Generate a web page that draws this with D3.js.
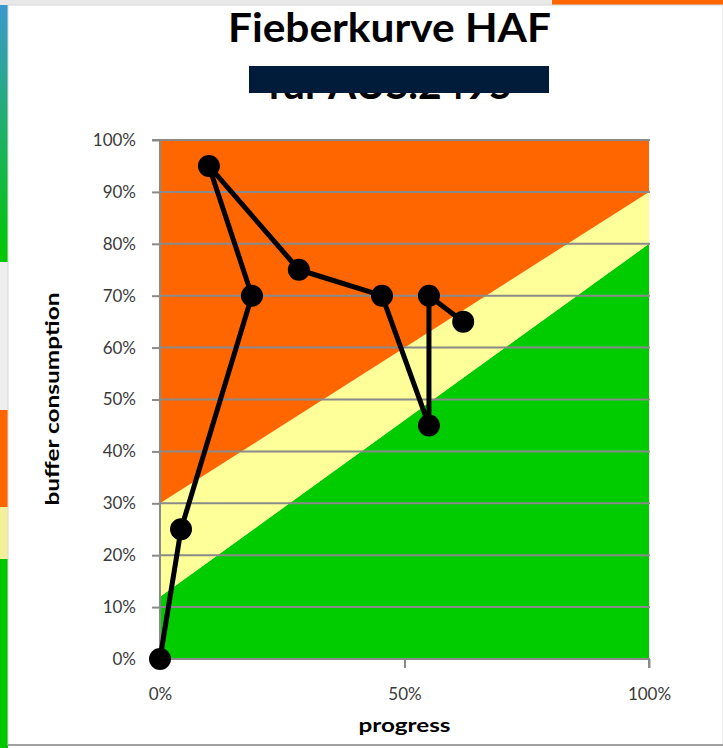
<!DOCTYPE html>
<html><head><meta charset="utf-8">
<script src="https://cdn.jsdelivr.net/npm/d3@7"></script>
<style>html,body{margin:0;padding:0;background:#fff;}svg{display:block;}</style>
</head><body>
<svg id="chart" width="723" height="748"></svg>
<script>
// ---- data ----
const progress    = [0.00, 0.043, 0.188, 0.10, 0.284, 0.454, 0.55, 0.55, 0.62];
const consumption = [0.00, 0.25,  0.70,  0.95, 0.75,  0.70,  0.45, 0.70, 0.65];
const yTicks = [0,0.1,0.2,0.3,0.4,0.5,0.6,0.7,0.8,0.9,1.0];
const xTicks = [0,0.5,1.0];
const redLine    = [0.30, 0.90];   // lower edge of red zone at progress 0 and 100%
const greenLine  = [0.12, 0.80];   // upper edge of green zone at progress 0 and 100%
const title = "Fieberkurve HAF";
const subtitle = "für AUS.2495";
const xTitle = "progress";
const yTitle = "buffer consumption";

const svg = d3.select("#chart");
const fmt = d3.format(".0%");

// ---- screenshot surroundings ----
const bg = svg.append("g");
const grad = svg.append("defs").append("linearGradient").attr("id","lg").attr("x1",0).attr("x2",0).attr("y1",0).attr("y2",1);
grad.append("stop").attr("offset","0%").attr("stop-color","#3c98d2");
grad.append("stop").attr("offset","100%").attr("stop-color","#00c800");
bg.append("rect").attr("x",0).attr("y",0).attr("width",8).attr("height",262).attr("fill","url(#lg)");
bg.append("rect").attr("x",0).attr("y",262).attr("width",8).attr("height",148).attr("fill","#eeeeee");
bg.append("rect").attr("x",0).attr("y",410).attr("width",8).attr("height",97).attr("fill","#ff6600");
bg.append("rect").attr("x",0).attr("y",507).attr("width",8).attr("height",52).attr("fill","#f4f09a");
bg.append("rect").attr("x",0).attr("y",559).attr("width",8).attr("height",189).attr("fill","#00c800");
bg.append("rect").attr("x",0).attr("y",0).attr("width",723).attr("height",5).attr("fill","#e8e8e8");
bg.append("rect").attr("x",552).attr("y",0).attr("width",171).attr("height",5).attr("fill","#ff6600");
bg.append("rect").attr("x",8).attr("y",5).attr("width",715).attr("height",740).attr("fill","#fff").attr("stroke","#d8d8d8").attr("stroke-width",1);
bg.append("line").attr("x1",8).attr("x2",723).attr("y1",745).attr("y2",745).attr("stroke","#a0a0a0").attr("stroke-width",2);

// ---- scales ----
const x = d3.scaleLinear().domain([0,1]).range([160,649]);
const y = d3.scaleLinear().domain([0,1]).range([659,140]);

// ---- zones ----
const area = d3.line().x(d=>x(d[0])).y(d=>y(d[1]));
const zones = [
  {fill:"#00cc00", pts:[[0,0],[1,0],[1,greenLine[1]],[0,greenLine[0]]]},
  {fill:"#ffff99", pts:[[0,greenLine[0]],[1,greenLine[1]],[1,redLine[1]],[0,redLine[0]]]},
  {fill:"#ff6600", pts:[[0,redLine[0]],[1,redLine[1]],[1,1],[0,1]]}
];
svg.append("g").selectAll("path").data(zones).join("path")
  .attr("d",d=>area(d.pts)+"Z").attr("fill",d=>d.fill);

// ---- gridlines ----
svg.append("g").selectAll("line").data(yTicks.slice(1)).join("line")
  .attr("x1",x(0)).attr("x2",x(1)+1).attr("y1",d=>y(d)).attr("y2",d=>y(d))
  .attr("stroke","#8a8a8a").attr("stroke-width",2);

// ---- axes ----
const yAxis = svg.append("g").attr("transform",`translate(${x(0)},0)`)
  .call(d3.axisLeft(y).tickValues(yTicks).tickFormat(fmt).tickSize(8).tickPadding(16));
const xAxis = svg.append("g").attr("transform",`translate(0,${y(0)})`)
  .call(d3.axisBottom(x).tickValues(xTicks).tickFormat(fmt).tickSize(9).tickPadding(20));
[yAxis,xAxis].forEach(a=>{
  a.selectAll(".domain").attr("stroke","#8a8a8a").attr("stroke-width",2);
  a.selectAll(".tick line").attr("stroke","#8a8a8a").attr("stroke-width",2);
  a.selectAll("text").attr("fill","#3a3a3a").style("font-family","Lato, 'Open Sans', sans-serif").style("font-size","17px");
});
yAxis.select(".domain").attr("d",`M-8,${y(1)}H0V${y(0)}`);
xAxis.select(".domain").attr("d",`M${x(0)},0H${x(1)}V9`);

// ---- series ----
const pts = progress.map((p,i)=>[p,consumption[i]]);
svg.append("path").datum(pts)
  .attr("d",d3.line().x(d=>x(d[0])).y(d=>y(d[1])))
  .attr("fill","none").attr("stroke","#000").attr("stroke-width",5).attr("stroke-linejoin","round");
svg.append("g").selectAll("circle").data(pts).join("circle")
  .attr("cx",d=>x(d[0])).attr("cy",d=>y(d[1])).attr("r",11).attr("fill","#000");

// ---- titles ----
svg.append("text").attr("x",389.5).attr("y",42).attr("text-anchor","middle")
  .style("font-family","Lato, 'Open Sans', sans-serif").style("font-weight","bold").style("font-size","41px")
  .attr("textLength",323).attr("lengthAdjust","spacingAndGlyphs").text(title);
svg.append("text").attr("x",390).attr("y",99).attr("text-anchor","middle")
  .style("font-family","Lato, 'Open Sans', sans-serif").style("font-weight","bold").style("font-size","40px")
  .attr("textLength",245).attr("lengthAdjust","spacingAndGlyphs").text(subtitle);
svg.append("rect").attr("x",249).attr("y",66).attr("width",300).attr("height",27).attr("fill","#011c3a");

svg.append("text").attr("x",x(0.5)).attr("y",732).attr("text-anchor","middle")
  .style("font-family","Lato, 'Open Sans', sans-serif").style("font-weight","bold").style("font-size","19px")
  .attr("textLength",92).attr("lengthAdjust","spacingAndGlyphs").text(xTitle);
svg.append("text").attr("transform","translate(59,399) rotate(-90)").attr("text-anchor","middle")
  .style("font-family","Lato, 'Open Sans', sans-serif").style("font-weight","bold").style("font-size","18px")
  .attr("textLength",213).attr("lengthAdjust","spacingAndGlyphs").text(yTitle);
</script>
</body></html>
